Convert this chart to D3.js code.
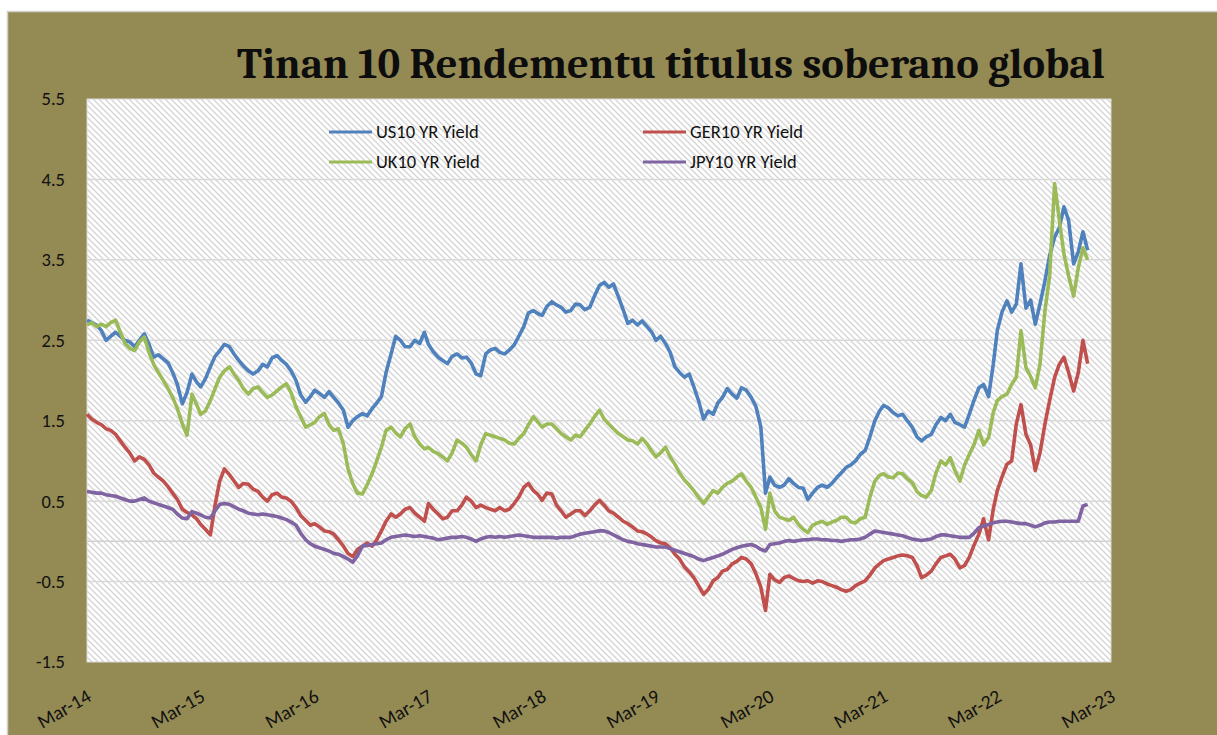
<!DOCTYPE html>
<html>
<head>
<meta charset="utf-8">
<script src="https://cdn.jsdelivr.net/npm/d3@7"></script>
<style>
  body { margin: 0; background: #fff; }
  svg { display: block; }
</style>
</head>
<body>
<svg id="chart"></svg>
<script>
    // half-month readings, Mar 2014 .. Dec 2022 (two values per month)
    var us10 = [
      2.75,2.72, 2.69,2.62, 2.5,2.55, 2.6,2.55, 2.5,2.48, 2.42,2.5, 2.58,2.45, 2.29,2.32, 2.27,2.22, 2.1,1.95,
      1.71,1.85, 2.08,1.98, 1.92,2.02, 2.17,2.3, 2.37,2.45, 2.42,2.33, 2.25,2.18, 2.12,2.08, 2.12,2.2, 2.17,2.28,
      2.31,2.25, 2.2,2.12, 2.0,1.82, 1.73,1.8, 1.88,1.84, 1.79,1.86, 1.79,1.72, 1.63,1.42, 1.5,1.55, 1.59,1.56,
      1.65,1.72, 1.8,2.1, 2.33,2.55, 2.5,2.42, 2.42,2.5, 2.46,2.6, 2.45,2.36, 2.29,2.25, 2.21,2.3, 2.33,2.28,
      2.29,2.22, 2.08,2.06, 2.33,2.38, 2.4,2.35, 2.33,2.38, 2.44,2.55, 2.67,2.84, 2.87,2.83, 2.81,2.92, 2.98,2.94,
      2.91,2.85, 2.87,2.95, 2.94,2.88, 2.91,3.05, 3.18,3.22, 3.16,3.2, 3.04,2.88, 2.71,2.75, 2.69,2.74, 2.67,2.6,
      2.5,2.55, 2.46,2.35, 2.17,2.1, 2.04,2.08, 1.92,1.75, 1.52,1.62, 1.58,1.72, 1.79,1.9, 1.83,1.78, 1.91,1.88,
      1.79,1.68, 1.42,0.6, 0.8,0.7, 0.67,0.7, 0.78,0.72, 0.67,0.66, 0.52,0.6, 0.67,0.7, 0.67,0.72, 0.79,0.85,
      0.92,0.95, 1.0,1.08, 1.13,1.3, 1.5,1.62, 1.69,1.66, 1.6,1.56, 1.58,1.5, 1.42,1.3, 1.25,1.3, 1.33,1.45,
      1.54,1.5, 1.58,1.48, 1.45,1.42, 1.58,1.75, 1.91,1.95, 1.8,2.2, 2.62,2.85, 2.99,2.85, 2.95,3.45, 2.9,3.0,
      2.7,2.95, 3.24,3.55, 3.78,3.9, 4.16,3.99, 3.45,3.6, 3.85,3.62
    ];
    var ger10 = [
      1.58,1.52, 1.48,1.45, 1.4,1.38, 1.33,1.25, 1.17,1.1, 1.0,1.05, 1.02,0.95, 0.85,0.8, 0.75,0.68, 0.6,0.52,
      0.4,0.36, 0.33,0.28, 0.21,0.15, 0.08,0.45, 0.75,0.9, 0.83,0.75, 0.67,0.72, 0.71,0.65, 0.62,0.55, 0.5,0.58,
      0.6,0.55, 0.54,0.5, 0.42,0.32, 0.26,0.2, 0.22,0.18, 0.13,0.12, 0.09,0.02, -0.06,-0.15, -0.19,-0.1, -0.06,-0.02,
      -0.06,0.02, 0.13,0.25, 0.34,0.3, 0.34,0.4, 0.42,0.35, 0.3,0.25, 0.47,0.4, 0.34,0.28, 0.3,0.38, 0.38,0.45,
      0.55,0.5, 0.42,0.45, 0.42,0.4, 0.38,0.42, 0.38,0.4, 0.47,0.55, 0.67,0.72, 0.63,0.58, 0.51,0.6, 0.59,0.45,
      0.38,0.3, 0.34,0.38, 0.38,0.32, 0.38,0.45, 0.51,0.45, 0.38,0.35, 0.3,0.25, 0.22,0.18, 0.13,0.12, 0.09,0.05,
      0.01,-0.02, -0.03,-0.08, -0.16,-0.22, -0.32,-0.38, -0.45,-0.55, -0.66,-0.6, -0.49,-0.45, -0.37,-0.35, -0.28,-0.25, -0.2,-0.22,
      -0.28,-0.4, -0.57,-0.86, -0.41,-0.48, -0.51,-0.45, -0.43,-0.46, -0.49,-0.5, -0.49,-0.52, -0.49,-0.5, -0.53,-0.55, -0.57,-0.6,
      -0.62,-0.6, -0.55,-0.52, -0.49,-0.42, -0.33,-0.28, -0.24,-0.22, -0.2,-0.18, -0.17,-0.18, -0.2,-0.3, -0.45,-0.42, -0.37,-0.28,
      -0.2,-0.18, -0.16,-0.22, -0.33,-0.3, -0.2,-0.05, 0.09,0.28, 0.02,0.4, 0.63,0.8, 0.96,1.0, 1.46,1.7, 1.33,1.2,
      0.88,1.1, 1.46,1.75, 2.04,2.2, 2.29,2.1, 1.87,2.1, 2.5,2.21
    ];
    var uk10 = [
      2.69,2.72, 2.67,2.7, 2.67,2.72, 2.75,2.6, 2.46,2.4, 2.37,2.48, 2.54,2.35, 2.2,2.1, 2.0,1.9, 1.79,1.65,
      1.46,1.32, 1.83,1.7, 1.58,1.62, 1.75,1.9, 2.04,2.12, 2.17,2.08, 2.0,1.9, 1.83,1.9, 1.92,1.85, 1.79,1.82,
      1.87,1.92, 1.96,1.85, 1.67,1.55, 1.42,1.45, 1.48,1.55, 1.59,1.45, 1.38,1.4, 1.21,0.9, 0.72,0.6, 0.59,0.7,
      0.84,1.0, 1.17,1.38, 1.42,1.35, 1.3,1.4, 1.46,1.3, 1.21,1.15, 1.17,1.12, 1.09,1.05, 1.0,1.1, 1.26,1.22,
      1.17,1.08, 1.0,1.2, 1.34,1.32, 1.3,1.28, 1.26,1.22, 1.21,1.28, 1.34,1.45, 1.55,1.48, 1.42,1.46, 1.46,1.4,
      1.34,1.3, 1.26,1.32, 1.3,1.38, 1.46,1.55, 1.63,1.52, 1.46,1.4, 1.34,1.3, 1.26,1.25, 1.21,1.28, 1.21,1.12,
      1.05,1.1, 1.17,1.05, 0.96,0.85, 0.76,0.7, 0.63,0.55, 0.47,0.55, 0.63,0.6, 0.67,0.72, 0.75,0.8, 0.84,0.75,
      0.67,0.55, 0.42,0.15, 0.6,0.38, 0.3,0.28, 0.26,0.3, 0.21,0.15, 0.11,0.2, 0.23,0.25, 0.21,0.24, 0.26,0.3,
      0.3,0.24, 0.23,0.28, 0.3,0.55, 0.75,0.82, 0.84,0.8, 0.79,0.85, 0.84,0.78, 0.73,0.62, 0.57,0.55, 0.63,0.85,
      1.0,0.95, 1.04,0.88, 0.75,0.95, 1.08,1.2, 1.38,1.2, 1.29,1.6, 1.75,1.8, 1.83,1.95, 2.04,2.62, 2.16,2.05,
      1.91,2.2, 2.87,3.3, 4.45,4.0, 3.57,3.3, 3.05,3.4, 3.65,3.5
    ];
    var jpy10 = [
      0.62,0.61, 0.6,0.6, 0.58,0.57, 0.56,0.54, 0.52,0.5, 0.5,0.52, 0.54,0.5, 0.48,0.46, 0.44,0.42, 0.4,0.34,
      0.29,0.28, 0.37,0.35, 0.33,0.3, 0.29,0.38, 0.46,0.47, 0.46,0.43, 0.4,0.38, 0.35,0.34, 0.33,0.34, 0.33,0.32,
      0.31,0.29, 0.27,0.24, 0.2,0.1, 0.02,-0.03, -0.06,-0.08, -0.1,-0.12, -0.15,-0.16, -0.19,-0.22, -0.26,-0.18, -0.06,-0.05,
      -0.04,-0.03, -0.02,0.02, 0.05,0.06, 0.07,0.08, 0.07,0.06, 0.07,0.06, 0.05,0.04, 0.02,0.03, 0.04,0.05, 0.05,0.06,
      0.05,0.03, 0.0,0.03, 0.05,0.06, 0.05,0.06, 0.05,0.06, 0.07,0.08, 0.07,0.06, 0.05,0.05, 0.05,0.05, 0.05,0.04,
      0.05,0.05, 0.05,0.07, 0.09,0.1, 0.11,0.12, 0.13,0.13, 0.11,0.08, 0.05,0.02, 0.0,-0.01, -0.03,-0.04, -0.05,-0.06,
      -0.07,-0.07, -0.07,-0.09, -0.11,-0.13, -0.15,-0.17, -0.19,-0.22, -0.24,-0.22, -0.2,-0.18, -0.16,-0.13, -0.1,-0.08, -0.06,-0.05,
      -0.04,-0.06, -0.1,-0.12, -0.04,-0.03, -0.02,0.0, 0.01,0.0, 0.01,0.02, 0.02,0.03, 0.03,0.02, 0.02,0.01, 0.01,0.0,
      0.01,0.02, 0.02,0.03, 0.05,0.09, 0.13,0.12, 0.11,0.1, 0.09,0.08, 0.07,0.05, 0.03,0.02, 0.01,0.02, 0.03,0.06,
      0.08,0.08, 0.07,0.06, 0.05,0.05, 0.05,0.1, 0.17,0.19, 0.21,0.23, 0.24,0.25, 0.25,0.24, 0.23,0.22, 0.22,0.2,
      0.18,0.2, 0.23,0.24, 0.24,0.25, 0.25,0.25, 0.25,0.25, 0.44,0.46
    ];

    var seriesNames = ["US10 YR Yield", "GER10 YR Yield", "UK10 YR Yield", "JPY10 YR Yield"];
    var seriesColors = ["#4F81BD", "#C0504D", "#9BBB59", "#8064A2"];
    var yTicks = [-1.5, -0.5, 0.5, 1.5, 2.5, 3.5, 4.5, 5.5];
    var xTickLabels = ["Mar-14", "Mar-15", "Mar-16", "Mar-17", "Mar-18", "Mar-19", "Mar-20", "Mar-21", "Mar-22", "Mar-23"];
    var title = "Tinan 10 Rendementu titulus soberano global";

    var W = 1217, H = 735;
    // plot box (names kept off window.top etc.)
    var plotL = 87, plotR = 1111, plotT = 99, plotB = 662;

    var svg = d3.select('#chart').attr('width', W).attr('height', H);

    // pattern for the hatched plot area
    var defs = svg.append('defs');
    var pat = defs.append('pattern')
        .attr('id', 'hatch')
        .attr('patternUnits', 'userSpaceOnUse')
        .attr('width', 6).attr('height', 6);
    pat.append('rect').attr('width', 6).attr('height', 6).attr('fill', '#ffffff');
    pat.append('path')
        .attr('d', 'M-1,-1 L7,7 M-1,5 L1,7 M5,-1 L7,1')
        .attr('stroke', '#d4d4d4').attr('stroke-width', 1.3);

    // outer frame
    svg.append('rect')
        .attr('x', 7.5).attr('y', 11.5)
        .attr('width', W).attr('height', H)
        .attr('fill', '#948A54')
        .attr('stroke', '#d0d0d0').attr('stroke-width', 1.5);

    // title, fitted to the width it has in the picture
    var t = svg.append('text')
        .attr('x', 237).attr('y', 78)
        .attr('font-family', "Cambria, 'Liberation Serif', 'DejaVu Serif', serif")
        .attr('font-weight', 'bold')
        .attr('font-size', 40)
        .attr('fill', '#0d0d0d')
        .text(title);
    var tw = t.node().getComputedTextLength();
    t.attr('font-size', 40 * 868 / tw);

    // plot area
    svg.append('rect')
        .attr('x', plotL).attr('y', plotT)
        .attr('width', plotR - plotL).attr('height', plotB - plotT)
        .attr('fill', 'url(#hatch)')
        .attr('stroke', '#d9d9d9').attr('stroke-width', 1);

    var start = new Date(2014, 2, 1);
    var x = d3.scaleTime().domain([start, new Date(2023, 2, 1)]).range([plotL, plotR]);
    var y = d3.scaleLinear().domain([-1.5, 5.5]).range([plotB, plotT]);

    function dateAt(i) {
        return d3.timeDay.offset(d3.timeMonth.offset(start, i >> 1), (i & 1) * 15);
    }

    // gridlines
    svg.append('g')
        .selectAll('line')
        .data(yTicks.slice(1, -1))
        .enter().append('line')
        .attr('x1', plotL).attr('x2', plotR)
        .attr('y1', function(d){ return y(d); })
        .attr('y2', function(d){ return y(d); })
        .attr('stroke', '#d9d9d9').attr('stroke-width', 1.5);

    // horizontal axis line crosses at zero
    svg.append('line')
        .attr('x1', plotL).attr('x2', plotR)
        .attr('y1', y(0)).attr('y2', y(0))
        .attr('stroke', '#d0d0d0').attr('stroke-width', 1.5);

    var fontUI = "Carlito, Calibri, Lato, 'Open Sans', sans-serif";

    // y axis
    var yAxis = d3.axisLeft(y).tickValues(yTicks).tickSize(0).tickPadding(0)
        .tickFormat(function(d){ return d.toFixed(1); });
    var ay = svg.append('g')
        .attr('transform', 'translate(65,0)')
        .call(yAxis);
    ay.select('.domain').remove();
    ay.selectAll('text')
        .attr('font-family', fontUI).attr('font-size', 18.5).attr('fill', '#111');

    // x axis with rotated labels
    var xTickDates = xTickLabels.map(function(d, i){ return new Date(2014 + i, 2, 1); });
    var xAxis = d3.axisBottom(x).tickValues(xTickDates).tickSize(0)
        .tickFormat(function(d, i){ return xTickLabels[i]; });
    var ax = svg.append('g')
        .attr('transform', 'translate(0,' + plotB + ')')
        .call(xAxis);
    ax.select('.domain').remove();
    ax.selectAll('text')
        .attr('y', 0).attr('dy', 0)
        .attr('text-anchor', 'end')
        .attr('transform', 'translate(5,38) rotate(-30)')
        .attr('font-family', fontUI).attr('font-size', 19.5).attr('fill', '#111');

    // lines
    var line = d3.line()
        .x(function(d, i){ return x(dateAt(i)); })
        .y(function(d){ return y(d); });

    var allSeries = [us10, ger10, uk10, jpy10];
    var drawOrder = [0, 1, 2, 3];
    svg.append('g')
        .selectAll('path')
        .data(drawOrder)
        .enter().append('path')
        .attr('d', function(k){ return line(allSeries[k]); })
        .attr('fill', 'none')
        .attr('stroke', function(k){ return seriesColors[k]; })
        .attr('stroke-width', 3.6)
        .attr('stroke-linejoin', 'round');

    // legend, two columns
    var legendPos = [[329, 132], [643, 132], [329, 162], [643, 162]];
    var lg = svg.append('g')
        .selectAll('g')
        .data(seriesNames)
        .enter().append('g')
        .attr('transform', function(d, i){ return 'translate(' + legendPos[i][0] + ',' + legendPos[i][1] + ')'; });
    lg.append('line')
        .attr('x1', 0).attr('x2', 43)
        .attr('stroke', function(d, i){ return seriesColors[i]; })
        .attr('stroke-width', 3.2);
    lg.append('text')
        .attr('x', 47).attr('dy', '0.35em')
        .attr('font-family', fontUI).attr('font-size', 18.5).attr('fill', '#111')
        .text(function(d){ return d; });
</script>
</body>
</html>
